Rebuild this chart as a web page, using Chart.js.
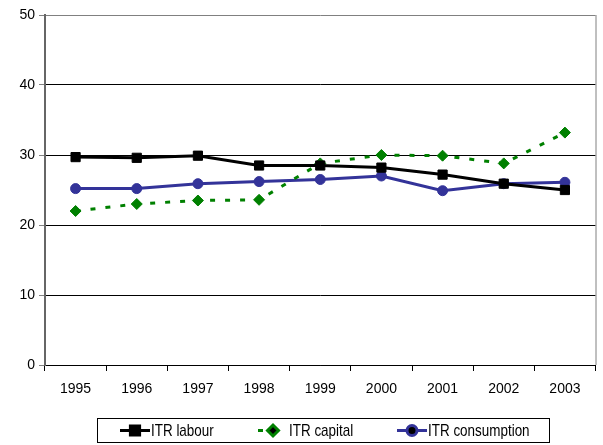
<!DOCTYPE html>
<html>
<head>
<meta charset="utf-8">
<script src="https://cdn.jsdelivr.net/npm/chart.js@4/dist/chart.umd.min.js"></script>
<style>
  html, body { margin: 0; padding: 0; background: #fff; }
  #wrap { width: 603px; height: 445px; }
</style>
</head>
<body>
<div id="wrap"><canvas id="myChart" width="603" height="445"></canvas></div>
<script>
// data
const years = ['1995', '1996', '1997', '1998', '1999', '2000', '2001', '2002', '2003'];
const itrLabour = [29.7, 29.6, 29.9, 28.5, 28.5, 28.2, 27.2, 25.9, 25.0];
const itrCapital = [22.0, 23.0, 23.5, 23.6, 28.8, 30.0, 29.9, 28.8, 33.2];
const itrConsumption = [25.2, 25.2, 25.9, 26.2, 26.5, 27.0, 24.9, 25.9, 26.1];
const yTicks = [0, 10, 20, 30, 40, 50];

const FONT = '"Liberation Sans", Arial, sans-serif';

// right-hand frame line of the plot area
const frame = {
    id: 'frame',
    afterDraw(chart) {
        const { ctx, chartArea } = chart;
        ctx.save();
        ctx.strokeStyle = '#808080';
        ctx.lineWidth = 1;
        ctx.beginPath();
        ctx.moveTo(chartArea.right + 0.5, chartArea.top);
        ctx.lineTo(chartArea.right + 0.5, chartArea.bottom);
        ctx.stroke();
        ctx.restore();
    }
};

// boxed legend with line + marker samples, like the spreadsheet one
const boxLegend = {
    id: 'boxLegend',
    afterDraw(chart) {
        const ctx = chart.ctx;
        const box = { x: 97.5, y: 418.5, w: 452, h: 24 };
        ctx.save();
        ctx.strokeStyle = '#000';
        ctx.lineWidth = 1;
        ctx.strokeRect(box.x, box.y, box.w, box.h);
        const cy = box.y + box.h / 2;
        const starts = [120, 258, 397];
        chart.data.datasets.forEach((ds, i) => {
            const x0 = starts[i];
            ctx.strokeStyle = ds.borderColor;
            ctx.lineWidth = ds.borderWidth;
            ctx.setLineDash(ds.borderDash || []);
            ctx.beginPath();
            ctx.moveTo(x0, cy);
            ctx.lineTo(x0 + 30, cy);
            ctx.stroke();
            ctx.setLineDash([]);
            Chart.helpers.drawPoint(ctx, {
                pointStyle: ds.pointStyle,
                radius: ds.pointRadius,
                borderWidth: 1
            }, x0 + 15, cy);
            // narrow text, the original uses a condensed face
            ctx.save();
            ctx.translate(x0 + 31, cy + 1);
            ctx.scale(0.84, 1.05);
            ctx.fillStyle = '#000';
            ctx.font = '16px ' + FONT;
            ctx.textBaseline = 'middle';
            ctx.fillText(ds.label, 0, 0);
            ctx.restore();
        });
        ctx.restore();
    }
};

const ctx = document.getElementById('myChart').getContext('2d');

const myChart = new Chart(ctx, {
    type: 'line',
    data: {
        labels: years,
        datasets: [{
            label: 'ITR labour',
            data: itrLabour,
            borderColor: '#000000',
            backgroundColor: '#000000',
            borderWidth: 3,
            pointStyle: 'rect',
            pointRadius: 6.5,
            pointBorderWidth: 1,
            pointHoverRadius: 6.5
        }, {
            label: 'ITR capital',
            data: itrCapital,
            borderColor: '#008000',
            backgroundColor: '#008000',
            borderWidth: 3,
            borderDash: [5, 10],
            pointStyle: 'rectRot',
            pointRadius: 5.5,
            pointBorderWidth: 1,
            pointHoverRadius: 5.5
        }, {
            label: 'ITR consumption',
            data: itrConsumption,
            borderColor: '#333399',
            backgroundColor: '#333399',
            borderWidth: 3,
            pointStyle: 'circle',
            pointRadius: 5,
            pointBorderWidth: 1,
            pointHoverRadius: 5
        }]
    },
    options: {
        responsive: false,
        animation: false,
        layout: {
            padding: { top: 15, right: 5, bottom: 45, left: 0 }
        },
        scales: {
            x: {
                offset: true,
                grid: {
                    offset: true,
                    drawOnChartArea: false,
                    tickLength: 6,
                    tickColor: '#000'
                },
                border: { color: '#000', width: 1 },
                ticks: {
                    color: '#000',
                    padding: 10,
                    maxRotation: 0,
                    font: { family: FONT, size: 14 }
                },
                afterFit(scale) { scale.height = 35; }
            },
            y: {
                min: 0,
                max: 50,
                afterBuildTicks(scale) {
                    scale.ticks = yTicks.map(v => ({ value: v }));
                },
                grid: {
                    color: c => (c.tick && c.tick.value === 50) ? '#808080' : '#000',
                    tickLength: 6,
                    tickColor: '#808080'
                },
                border: { color: '#666', width: 2 },
                ticks: {
                    color: '#000',
                    padding: 4,
                    font: { family: FONT, size: 14 }
                },
                afterFit(scale) { scale.width = 45; }
            }
        },
        plugins: {
            legend: { display: false },
            tooltip: { enabled: false },
            title: { display: false }
        }
    },
    plugins: [frame, boxLegend]
});
</script>
</body>
</html>
